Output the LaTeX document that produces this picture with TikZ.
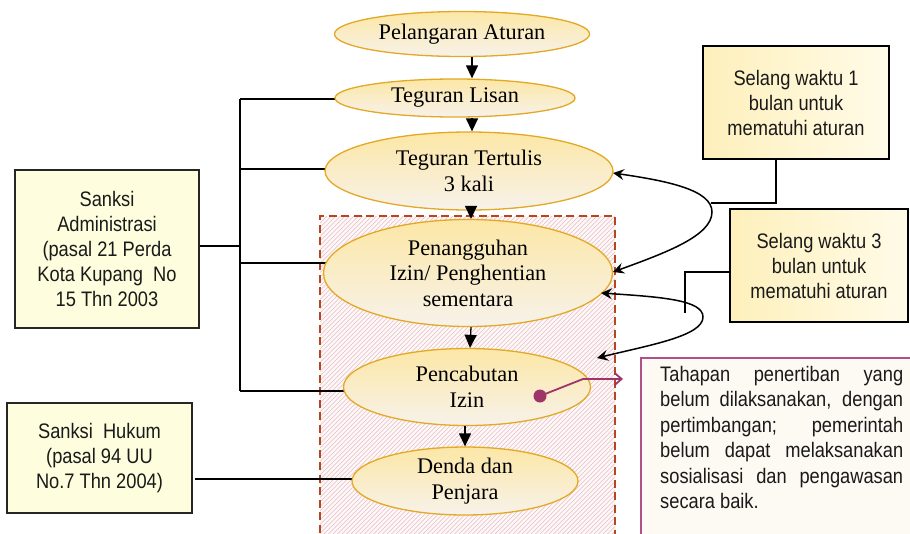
\documentclass[tikz,border=0pt]{standalone}
\usepackage{fontspec}
\setmainfont{Liberation Serif}
\newfontfamily\narrowsans[FakeStretch=0.87]{Liberation Sans}
\usetikzlibrary{shapes.geometric,arrows.meta}
\definecolor{ellborder}{HTML}{E3A824}
\definecolor{elltop}{HTML}{FCE7A6}
\definecolor{ellbot}{HTML}{F7F2EA}
\definecolor{dashcol}{HTML}{B5461F}
\definecolor{hatchcol}{HTML}{E6BEC4}
\definecolor{hatchbg}{HTML}{FDF7F7}
\definecolor{magcol}{HTML}{9E3468}
\definecolor{boxfill}{HTML}{FEFEDE}
\definecolor{selleft}{HTML}{FEF0BC}
\definecolor{selright}{HTML}{FFFBE8}
\definecolor{notefill}{HTML}{FDF9F3}
\definecolor{noteborder}{HTML}{B0508A}
\definecolor{textgray}{HTML}{1A1A1A}
\tikzset{
  ell/.style={ellipse, draw=ellborder, line width=1.3pt, top color=elltop, bottom color=ellbot,
    inner sep=0pt, align=center, font=\fontsize{22.3}{25.5}\selectfont},
  sbox/.style={rectangle, draw=black!85, line width=1.6pt, fill=boxfill, inner sep=0pt,
    align=center, text=textgray, font=\narrowsans\fontsize{21}{25}\selectfont},
  selbox/.style={rectangle, draw=black, line width=1.6pt, left color=selleft, right color=selright,
    inner sep=0pt, align=center, text=textgray, font=\narrowsans\fontsize{21}{25}\selectfont},
  flow/.style={line width=1.3pt, -{Triangle[length=13pt,width=12pt]}},
  conn/.style={line width=1.5pt, black},
  curv/.style={line width=1.5pt, black, -{Stealth[length=11pt,width=11pt,inset=4pt]}},
}
\begin{document}
\begin{tikzpicture}[x=1pt,y=-1pt]
\useasboundingbox (0,0) rectangle (910,533);
% hatched dashed region
\begin{scope}
\clip (320,216) rectangle (615,540);
\fill[hatchbg] (320,216) rectangle (615,540);
\foreach \k in {0,...,140}{
  \draw[hatchcol, line width=0.6pt] (3+4.5*\k,540) -- ++(330,-330);
}
\end{scope}
\draw[dashcol, line width=1.5pt, dash pattern=on 8pt off 4.5pt] (320,545) -- (320,216) -- (615,216) -- (615,545);

% note box
\node[rectangle, draw=noteborder, line width=1.6pt, fill=notefill, minimum width=290pt, minimum height=190pt, anchor=north west, inner sep=0pt] (note) at (640,357) {};
\node[anchor=north west, inner sep=0pt, text=textgray, align=left,
  font=\narrowsans\fontsize{21}{25.5}\selectfont] (notetext) at (660,366) {%
\makebox[243pt][s]{Tahapan penertiban yang}\\
\makebox[243pt][s]{belum dilaksanakan, dengan}\\
\makebox[243pt][s]{pertimbangan; pemerintah}\\
\makebox[243pt][s]{belum dapat melaksanakan}\\
\makebox[243pt][s]{sosialisasi dan pengawasan}\\
secara baik.};

% side boxes
\node[sbox, minimum width=184pt, minimum height=158pt] (sa) at (107,249) {Sanksi\\Administrasi\\(pasal 21 Perda\\Kota Kupang\ \ No\\15 Thn 2003};
\node[sbox, minimum width=185pt, minimum height=110pt] (sh) at (99.5,458) {Sanksi\ \ Hukum\\(pasal 94 UU\\No.7 Thn 2004)};
\node[selbox, minimum width=186pt, minimum height=113pt] (s1) at (796,102.5) {Selang waktu 1\\bulan untuk\\mematuhi aturan};
\node[selbox, minimum width=178pt, minimum height=113pt] (s3) at (819,265.5) {Selang waktu 3\\bulan untuk\\mematuhi aturan};

% bus coordinates
\coordinate (bt) at (240,99);
\coordinate (bb) at (240,391);
\coordinate (bm) at (240,246);
\coordinate (b2) at (240,169);
\coordinate (b4) at (240,263);
\coordinate (t2) at (345,99);
\coordinate (t3) at (330,169);
\coordinate (t4) at (330,263);
\coordinate (t5) at (350,391);
\coordinate (h6) at (195,479);
\coordinate (t6) at (360,479);
\draw[conn] (bt) -- (bb);
\draw[conn] (sa.east |- bm) -- (bm);
\draw[conn] (bt) -- (t2);
\draw[conn] (b2) -- (t3);
\draw[conn] (b4) -- (t4);
\draw[conn] (bb) -- (t5);
\draw[conn] (h6) -- (t6);

% ellipses
\node[ell, minimum width=255pt, minimum height=45pt] (e1) at (462,34) {Pelangaran Aturan};
\node[ell, minimum width=240pt, minimum height=38pt] (e2) at (455,98) {Teguran Lisan};
\node[ell, minimum width=288pt, minimum height=78pt] (e3) at (469,171) {Teguran Tertulis\\3 kali};
\node[ell, minimum width=289pt, minimum height=107pt] (e4) at (468,273) {Penangguhan\\Izin/ Penghentian\\sementara};
\node[ell, minimum width=247pt, minimum height=77pt] (e5) at (467,387) {Pencabutan\\Izin};
\node[ell, minimum width=226pt, minimum height=68pt] (e6) at (465,481) {Denda dan\\Penjara};

% flow arrows
\draw[flow] ([xshift=10pt]e1.south) -- ([xshift=17pt]e2.north);
\draw[flow] ([xshift=17pt]e2.south) -- ([xshift=3pt]e3.north);
\draw[flow] ([xshift=2pt]e3.south) -- ([xshift=3pt]e4.north);
\draw[flow] ([xshift=3pt]e4.south) -- ([xshift=3pt]e5.north);
\draw[flow] ([xshift=-2pt]e5.south) -- ([xshift=0pt]e6.north);

% curved arrows from Selang waktu 1
\coordinate (k1) at (711,203);
\coordinate (c1) at (712,212);
\coordinate (a1) at (613,173);
\coordinate (a2) at (613,272);
\draw[conn] (s1.south -| 776,0) |- (k1);
\draw[curv] (c1) .. controls (712,190) and (668,181) .. (a1);
\draw[curv] (c1) .. controls (712,236) and (665,253) .. (a2);

% curved arrows from Selang waktu 3
\coordinate (k3) at (685,272);
\coordinate (k3e) at (685,313);
\coordinate (c3) at (703,317);
\coordinate (a3) at (601,293);
\coordinate (a4) at (597,358);
\draw[conn] (s3.west |- k3) -- (k3) -- (k3e);
\draw[curv] (c3) .. controls (703,300) and (662,297) .. (a3);
\draw[curv] (c3) .. controls (703,336) and (650,345) .. (a4);

% magenta pointer
\coordinate (m1) at (540,396);
\coordinate (m2) at (583,379);
\coordinate (m3) at (623,379);
\fill[magcol] (m1) circle (6.5pt);
\draw[magcol, line width=1.8pt, -{Straight Barb[length=7pt,width=12pt]}] (m1) -- (m2) -- (m3);
\end{tikzpicture}
\end{document}
